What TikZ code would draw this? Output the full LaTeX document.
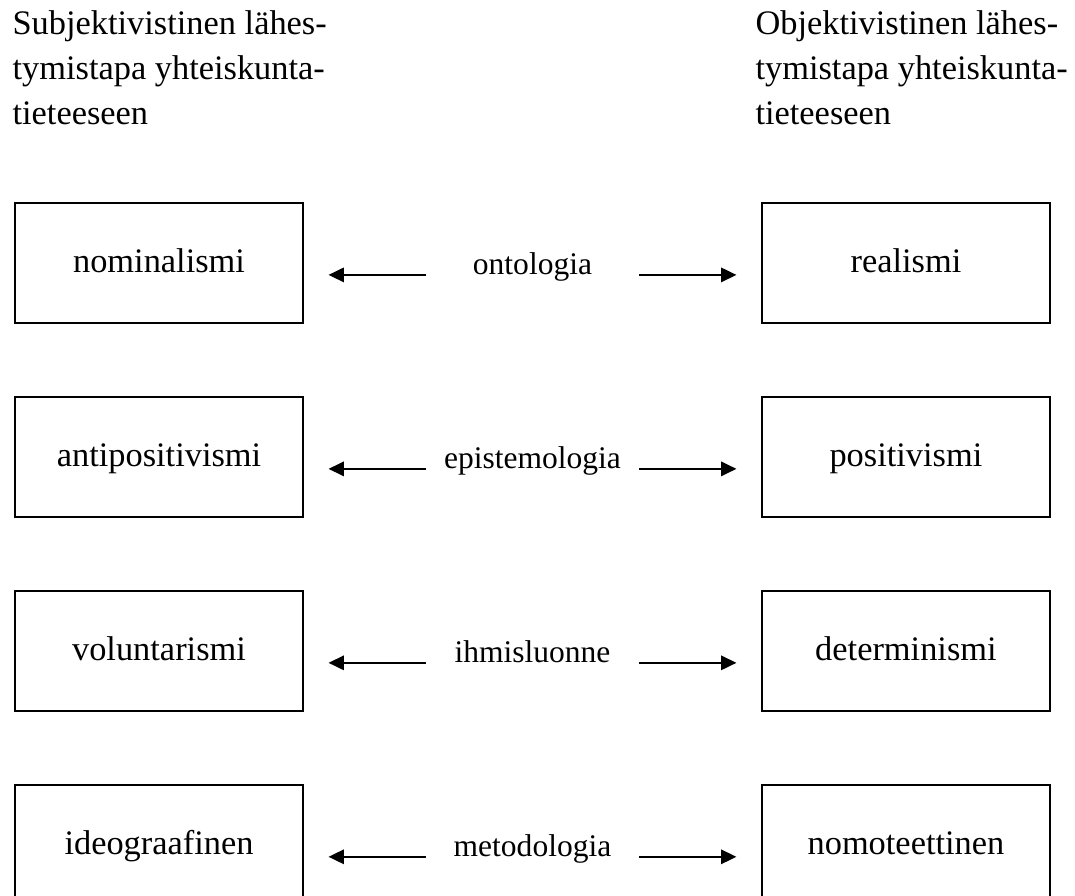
\documentclass[tikz,border=0pt]{standalone}
\usepackage{fontspec}
\setmainfont{Liberation Serif}
\usetikzlibrary{arrows.meta, calc, positioning}

\tikzset{
    box/.style={draw, line width=0.7pt, minimum width=100.6pt, minimum height=41.9pt, inner sep=0pt, text height=9pt, text depth=2pt, font=\fontsize{12}{14}\selectfont},
    lab/.style={inner sep=0pt, anchor=base, font=\fontsize{11}{13}\selectfont},
    head/.style={align=left, inner sep=0pt, anchor=base west, font=\fontsize{12}{15.7}\selectfont},
    arr/.style={-{Triangle[length=5.4pt, width=5pt]}, line width=0.8pt, shorten >=8.5pt},
}

\begin{document}
\begin{tikzpicture}[node distance=25.1pt and 159.4pt]
    \useasboundingbox (0,0) rectangle (375.2pt,-312.7pt);
    \clip (0,0) rectangle (375.2pt,-312.7pt);

    \node[head] (subj) at (4.2pt,-43.6pt)   {Subjektivistinen lähes-\\tymistapa yhteiskunta-\\tieteeseen};
    \node[head] (obj)  at (263.5pt,-43.6pt) {Objektivistinen lähes-\\tymistapa yhteiskunta-\\tieteeseen};

    \node[box] (nominalismi) at (55.5pt,-91.75pt)   {nominalismi};
    \node[box, below=of nominalismi]     (antipositivismi) {antipositivismi};
    \node[box, below=of antipositivismi] (voluntarismi)    {voluntarismi};
    \node[box, below=of voluntarismi]    (ideograafinen)   {ideograafinen};
    \node[box, right=of nominalismi]     (realismi)        {realismi};
    \node[box, right=of antipositivismi] (positivismi)     {positivismi};
    \node[box, right=of voluntarismi]    (determinismi)    {determinismi};
    \node[box, right=of ideograafinen]   (nomoteettinen)   {nomoteettinen};

    \node[lab] (ontologia)     at ($(nominalismi.east)!.5!(realismi.west)+(0,-4.2pt)$)          {ontologia};
    \node[lab] (epistemologia) at ($(antipositivismi.east)!.5!(positivismi.west)+(0,-4.2pt)$)  {epistemologia};
    \node[lab] (ihmisluonne)   at ($(voluntarismi.east)!.5!(determinismi.west)+(0,-4.2pt)$)    {ihmisluonne};
    \node[lab] (metodologia)   at ($(ideograafinen.east)!.5!(nomoteettinen.west)+(0,-4.2pt)$)  {metodologia};

    \draw[arr] ([xshift=-37.2pt]ontologia.base) -- (nominalismi.east |- ontologia.base);
    \draw[arr] ([xshift=37.2pt]ontologia.base)  -- (realismi.west |- ontologia.base);
    \draw[arr] ([xshift=-37.2pt]epistemologia.base) -- (antipositivismi.east |- epistemologia.base);
    \draw[arr] ([xshift=37.2pt]epistemologia.base)  -- (positivismi.west |- epistemologia.base);
    \draw[arr] ([xshift=-37.2pt]ihmisluonne.base) -- (voluntarismi.east |- ihmisluonne.base);
    \draw[arr] ([xshift=37.2pt]ihmisluonne.base)  -- (determinismi.west |- ihmisluonne.base);
    \draw[arr] ([xshift=-37.2pt]metodologia.base) -- (ideograafinen.east |- metodologia.base);
    \draw[arr] ([xshift=37.2pt]metodologia.base)  -- (nomoteettinen.west |- metodologia.base);
\end{tikzpicture}
\end{document}
